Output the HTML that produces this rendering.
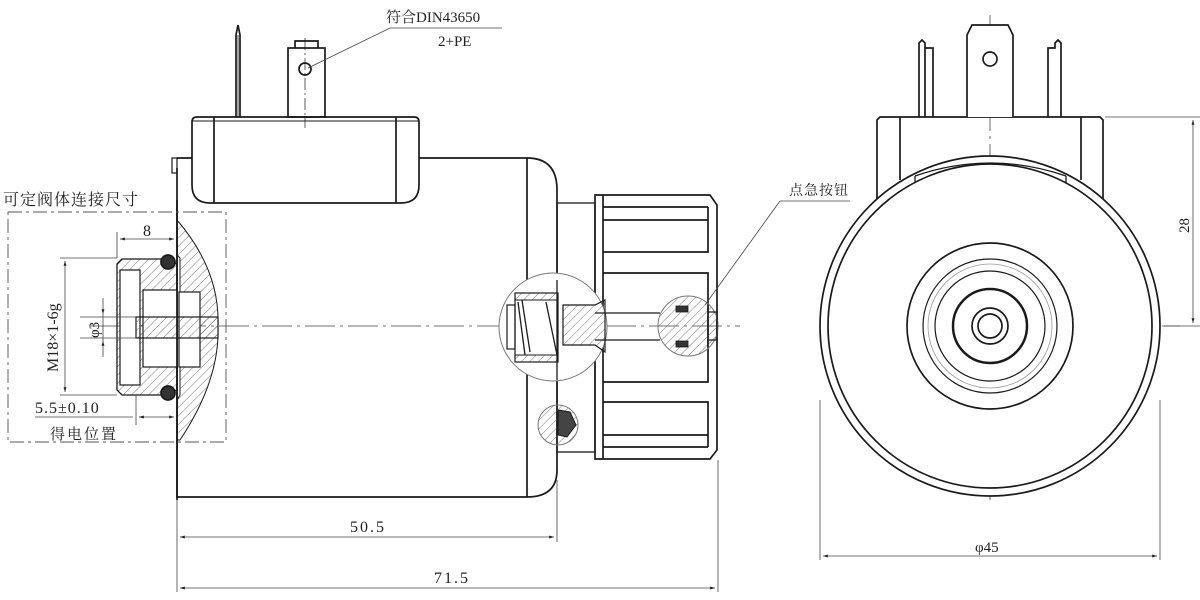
<!DOCTYPE html>
<html><head><meta charset="utf-8"><style>
html,body{margin:0;padding:0;background:#fff;}
svg{display:block;}
text{font-family:"Liberation Serif","Noto Serif CJK SC","Noto Sans CJK SC",serif;fill:#222;}
</style></head><body>
<svg width="1200" height="600" viewBox="0 0 1200 600" xmlns="http://www.w3.org/2000/svg">
<defs>
<pattern id="h" patternUnits="userSpaceOnUse" width="6" height="6" patternTransform="rotate(45)">
<line x1="0" y1="0" x2="0" y2="6" stroke="#555" stroke-width="0.8"/>
</pattern>
<marker id="a" viewBox="0 0 10 10" refX="10" refY="5" markerWidth="8" markerHeight="6" orient="auto-start-reverse"><path d="M0,2 L10,5 L0,8 z" fill="#222"/></marker>
</defs>
<g fill="none" stroke="#1a1a1a" stroke-width="1.7">
<line x1="90" y1="326" x2="740" y2="326" stroke="#444" stroke-width="0.8" stroke-dasharray="30,5,3,5"/>
<path d="M192,122 Q192,117 197,117 H414 Q419,117 419,122 V185 Q419,203 401,203 H210 Q192,203 192,185 Z"/>
<line x1="192" y1="121" x2="419" y2="121" stroke-width="1"/>
<line x1="214" y1="117" x2="214" y2="203"/>
<line x1="396" y1="117" x2="396" y2="203"/>
<path d="M236,117 V35 L238,25 L240,35 V117"/>
<line x1="238" y1="35" x2="238" y2="117" stroke-width="0.8"/>
<rect x="288" y="48" width="37" height="69"/>
<path d="M295,48 V41 H318 V48"/>
<circle cx="305" cy="69" r="6"/>
<line x1="305" y1="38" x2="305" y2="128" stroke-width="0.7" stroke-dasharray="12,3,2,3"/>
<path d="M177,158 H192 M419,158 H527 Q557,158 557,190 V470 Q557,497 527,497 H177 V168"/>
<line x1="527" y1="158" x2="527" y2="497"/>
<rect x="172" y="158" width="5" height="15" stroke-width="1.2"/>
<path d="M177,220 Q220,270 218,326 Q220,380 180,440 L177,440 V400 L180,395 V258 L177,255 Z" fill="url(#h)" stroke-width="1"/>
<path d="M117,264 L122,259 H162 L177,264 V390 L162,395 H122 L117,390 Z" fill="url(#h)" stroke-width="1.3"/>
<rect x="120" y="270" width="20" height="115" fill="#fff" stroke-width="1.2"/>
<rect x="143" y="290" width="34" height="77" fill="#fff" stroke-width="1.2"/>
<rect x="179" y="292" width="21" height="75" fill="#fff" stroke-width="1.2"/>
<rect x="136" y="317" width="82" height="21" fill="url(#h)" stroke-width="1.2"/>
<circle cx="168" cy="262" r="7" fill="#333"/>
<circle cx="168" cy="393" r="7" fill="#333"/>
<line x1="177" y1="200" x2="177" y2="500"/>
<rect x="8" y="212" width="218" height="230" stroke="#555" stroke-width="0.9" stroke-dasharray="14,4,3,4"/>
<rect x="557" y="203" width="38" height="249" stroke-width="1.3"/>
<path d="M595,195 H710 L717,205 V450 L710,459 H595 Z"/>
<line x1="603" y1="195" x2="603" y2="459"/>
<path d="M603,207 H708 M603,220 H708 V252 H603 M603,273 H708 V382 H603 M603,402 H708 V435 H603 M603,447 H708 M708,207 V220 M708,435 V447"/>
<circle cx="553" cy="327" r="54" fill="#fff" stroke="#777" stroke-width="1"/>
<rect x="515" y="293" width="43" height="69" stroke-width="1.2"/>
<rect x="515" y="293" width="43" height="7" fill="url(#h)" stroke-width="1"/>
<rect x="515" y="355" width="43" height="7" fill="url(#h)" stroke-width="1"/>
<rect x="507" y="305" width="8" height="44" stroke-width="1.2"/>
<path d="M518,302 L525,355 M522,300 L530,352 M546,302 L557,355" stroke-width="1.3"/>
<path d="M563,305 H595 L605,300 V352 L595,345 H563 Z" fill="url(#h)" stroke-width="1.2"/>
<line x1="595" y1="313" x2="660" y2="313" stroke-width="1.2"/>
<line x1="595" y1="340" x2="660" y2="340" stroke-width="1.2"/>
<line x1="557" y1="280" x2="557" y2="380" stroke-width="1.3"/>
<circle cx="688" cy="326" r="30" fill="url(#h)" stroke="#777" stroke-width="1"/>
<path d="M708,305 V347 M708,312 H717 V340 H708" stroke-width="1.3"/>
<rect x="676" y="306" width="12" height="6" fill="#333" stroke-width="0.8"/>
<rect x="676" y="341" width="12" height="6" fill="#333" stroke-width="0.8"/>
<circle cx="558" cy="425" r="20" fill="url(#h)" stroke="#777" stroke-width="1"/>
<path d="M558,410 L570,412 L576,425 L567,437 L558,435 Z" fill="#444" stroke-width="1"/>
<line x1="820" y1="326" x2="1180" y2="326" stroke="#444" stroke-width="0.8" stroke-dasharray="30,5,3,5"/>
<line x1="990" y1="15" x2="990" y2="500" stroke="#444" stroke-width="0.8" stroke-dasharray="30,5,3,5"/>
<path d="M877,200 V120 L880,117 H1100 L1103,120 V200"/>
<line x1="900" y1="117" x2="900" y2="180"/>
<line x1="1081" y1="117" x2="1081" y2="180"/>
<path d="M967,117 V35 L972,25 H1008 L1013,35 V117" fill="#fff"/>
<circle cx="990" cy="59" r="7"/>
<path d="M919,117 V43 L922,40 L925,43 V117 M925,48 H933 V117 M1048,117 V48 H1055 V43 L1058,40 L1061,43 V117"/>
<circle cx="990" cy="326" r="170" fill="#fff"/>
<circle cx="990" cy="326" r="162"/>
<path d="M915,176 V183 M1066,176 V183 M915,176 Q990,150 1066,176" stroke-width="1.3"/>
<circle cx="990" cy="326" r="83"/>
<circle cx="990" cy="326" r="67" stroke-width="1.2"/>
<circle cx="990" cy="326" r="62" stroke="#999" stroke-width="0.8"/>
<circle cx="990" cy="326" r="55" stroke-width="1.2"/>
<circle cx="990" cy="326" r="37" stroke-width="2.5"/>
<circle cx="990" cy="326" r="18"/>
<circle cx="990" cy="326" r="12"/>
</g>
<g stroke="#444" stroke-width="0.8" fill="none">
<line x1="177" y1="500" x2="177" y2="592"/>
<line x1="557" y1="480" x2="557" y2="542"/>
<line x1="718" y1="460" x2="718" y2="592"/>
<line x1="180" y1="537" x2="554" y2="537" marker-start="url(#a)" marker-end="url(#a)"/>
<line x1="180" y1="588" x2="715" y2="588" marker-start="url(#a)" marker-end="url(#a)"/>
<line x1="820" y1="400" x2="820" y2="560"/>
<line x1="1160" y1="400" x2="1160" y2="560"/>
<line x1="823" y1="556" x2="1157" y2="556" marker-start="url(#a)" marker-end="url(#a)"/>
<line x1="1105" y1="117" x2="1200" y2="117"/>
<line x1="1162" y1="326" x2="1200" y2="326"/>
<line x1="1193" y1="120" x2="1193" y2="323" marker-start="url(#a)" marker-end="url(#a)"/>
<line x1="117" y1="232" x2="117" y2="258"/>
<line x1="120" y1="239" x2="174" y2="239" marker-start="url(#a)" marker-end="url(#a)"/>
<line x1="60" y1="258" x2="117" y2="258"/>
<line x1="60" y1="395" x2="117" y2="395"/>
<line x1="65" y1="261" x2="65" y2="392" marker-start="url(#a)" marker-end="url(#a)"/>
<line x1="80" y1="317" x2="136" y2="317"/>
<line x1="80" y1="338" x2="136" y2="338"/>
<line x1="103" y1="298" x2="103" y2="314" marker-end="url(#a)"/>
<line x1="103" y1="357" x2="103" y2="341" marker-end="url(#a)"/>
<line x1="103" y1="314" x2="103" y2="341"/>
<line x1="136" y1="395" x2="136" y2="425"/>
<line x1="35" y1="417" x2="133" y2="417"/>
<line x1="139" y1="417" x2="174" y2="417" marker-start="url(#a)" marker-end="url(#a)"/>
<line x1="390" y1="28" x2="502" y2="28"/>
<line x1="390" y1="28" x2="308" y2="68"/>
<line x1="780" y1="201" x2="850" y2="201"/>
<line x1="780" y1="201" x2="705" y2="305"/>
</g>
<g font-size="14">
<text x="386" y="22" font-size="15">符合DIN43650</text>
<text x="438" y="46" font-size="15">2+PE</text>
<text x="789" y="195" font-size="14" letter-spacing="1">点急按钮</text>
<text x="3" y="205" font-size="16" letter-spacing="1">可定阀体连接尺寸</text>
<text x="143" y="236" font-size="16">8</text>
<text x="35" y="413" font-size="16" letter-spacing="1">5.5±0.10</text>
<text x="50" y="439" font-size="15" letter-spacing="2">得电位置</text>
<text x="350" y="532" font-size="16" letter-spacing="2">50.5</text>
<text x="434" y="583" font-size="16" letter-spacing="2">71.5</text>
<text x="975" y="552" font-size="15">φ45</text>
<text transform="translate(1189,233) rotate(-90)" font-size="15">28</text>
<text transform="translate(58,372) rotate(-90)" font-size="16">M18×1-6g</text>
<text transform="translate(99,338) rotate(-90)" font-size="15">φ3</text>
</g>
</svg>
</body></html>
